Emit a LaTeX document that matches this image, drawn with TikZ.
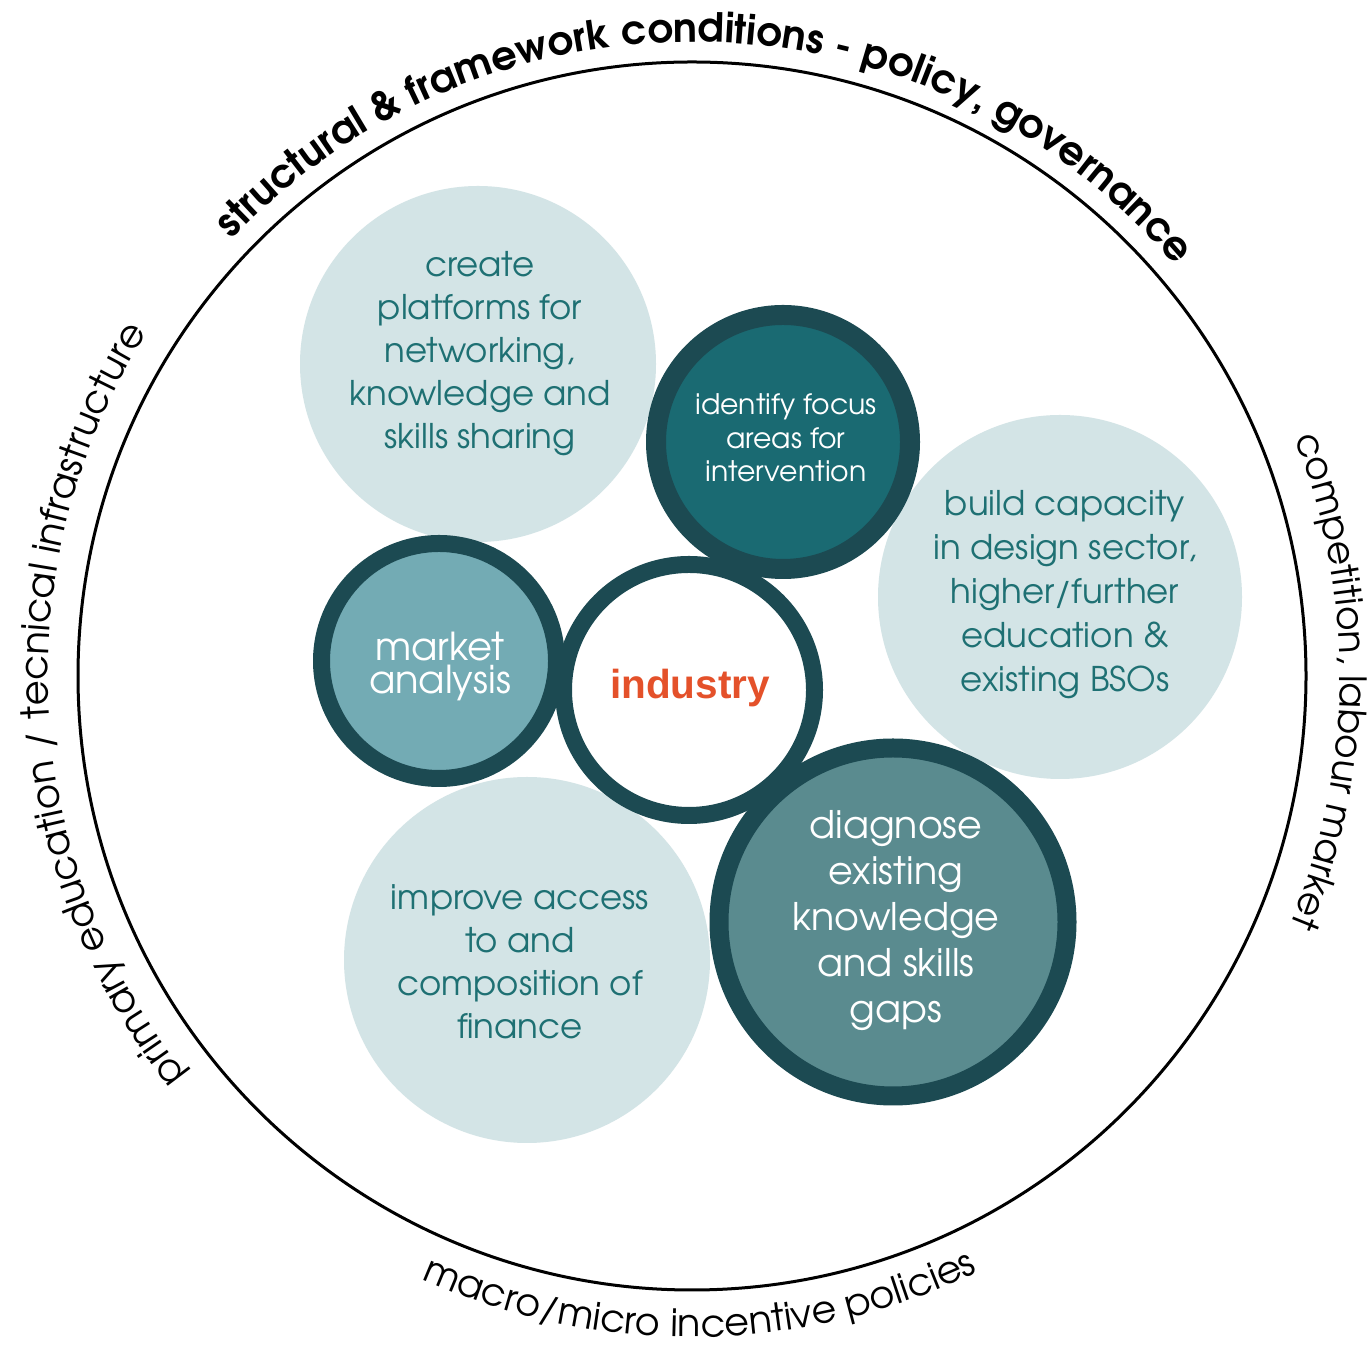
\documentclass[tikz,border=0pt]{standalone}
\usepackage{fontspec}
\setmainfont{TeX Gyre Adventor}
\newfontfamily\indfont{Liberation Sans}
\usetikzlibrary{decorations.text}
\definecolor{lightfill}{HTML}{D3E4E6}
\definecolor{lighttext}{HTML}{1E7073}
\definecolor{ringcol}{HTML}{1C4A52}
\definecolor{idfill}{HTML}{1A6A72}
\definecolor{mafill}{HTML}{73ABB4}
\definecolor{dgfill}{HTML}{5A8B8F}
\definecolor{indcol}{HTML}{E4512A}
\tikzset{
  lightc/.style={circle, fill=lightfill, draw=none, inner sep=0pt},
  ringc/.style={circle, draw=ringcol, inner sep=0pt},
  lighttxt/.style={text=lighttext, align=center, inner sep=0pt},
  darktxt/.style={text=white, align=center, inner sep=0pt},
}
\begin{document}
\begin{tikzpicture}[x=1pt,y=1pt]
\useasboundingbox[fill=white] (0,0) rectangle (1370,1351);
\coordinate (C) at (692,675);
\node[circle, draw=black, line width=3pt, minimum size=1228pt, inner sep=0pt] (outer) at (C) {};

% curved texts
\path[decorate, decoration={text along path, text align=center,
  text={|\bfseries\fontsize{40}{40}\selectfont|structural {\&} framework conditions - policy, governance}}]
  (C) ++(148.4:634) arc[start angle=148.4, end angle=28.4, radius=634];
\path[decorate, decoration={text along path, text align=center,
  text={|\fontsize{38.5}{38}\selectfont|primary education / tecnical infrastructure}}]
  (C) ++(233:644) arc[start angle=233, end angle=133, radius=644];
\path[decorate, decoration={text along path, text align=center,
  text={|\fontsize{37.5}{37}\selectfont|competition, labour market}}]
  (C) ++(29.5:648) arc[start angle=29.5, end angle=-30.5, radius=648];
\path[decorate, decoration={text along path, text align=center,
  text={|\fontsize{38}{38}\selectfont|macro/micro incentive policies}}]
  (C) ++(220.75:661) arc[start angle=220.75, end angle=320.75, radius=661];

% light circles
\node[lightc, minimum size=356pt] (cp) at (478,987) {};
\node[lightc, minimum size=364pt] (bc) at (1060,754) {};
\node[lightc, minimum size=366pt] (ia) at (527,391) {};

\node[lighttxt, font=\fontsize{34}{43}\selectfont] (cpt) at (480,997)
  {create\\platforms for\\networking,\\knowledge and\\skills sharing};
\node[lighttxt, font=\fontsize{34}{44}\selectfont] (bct) at (1065,756)
  {build capacity\\in design sector,\\higher/further\\education \&\\existing BSOs};
\node[lighttxt, font=\fontsize{34}{43}\selectfont] (iat) at (520,389)
  {improve access\\to and\\composition of\\finance};

% ring circles
\node[ringc, fill=mafill, line width=17pt, minimum size=235pt] (ma) at (439,690) {};
\node[ringc, fill=idfill, line width=20pt, minimum size=254pt] (idf) at (783,909) {};
\node[ringc, fill=white, line width=17pt, minimum size=251pt] (ind) at (689,661) {};
\node[ringc, fill=dgfill, line width=19pt, minimum size=348pt] (dg) at (893,429) {};

\node[darktxt, font=\fontsize{38.5}{33}\selectfont] (mat) at (440,685) {market\\analysis};
\node[darktxt, font=\fontsize{28.3}{33.5}\selectfont] (idft) at (786,913)
  {identify focus\\areas for\\intervention};
\node[darktxt, font=\fontsize{38}{46}\selectfont] (dgt) at (896,430)
  {diagnose\\existing\\knowledge\\and skills\\gaps};
\node[text=indcol, inner sep=0pt, font=\indfont\bfseries\fontsize{40.5}{40}\selectfont] (indt) at (690,663) {industry};
\end{tikzpicture}
\end{document}
